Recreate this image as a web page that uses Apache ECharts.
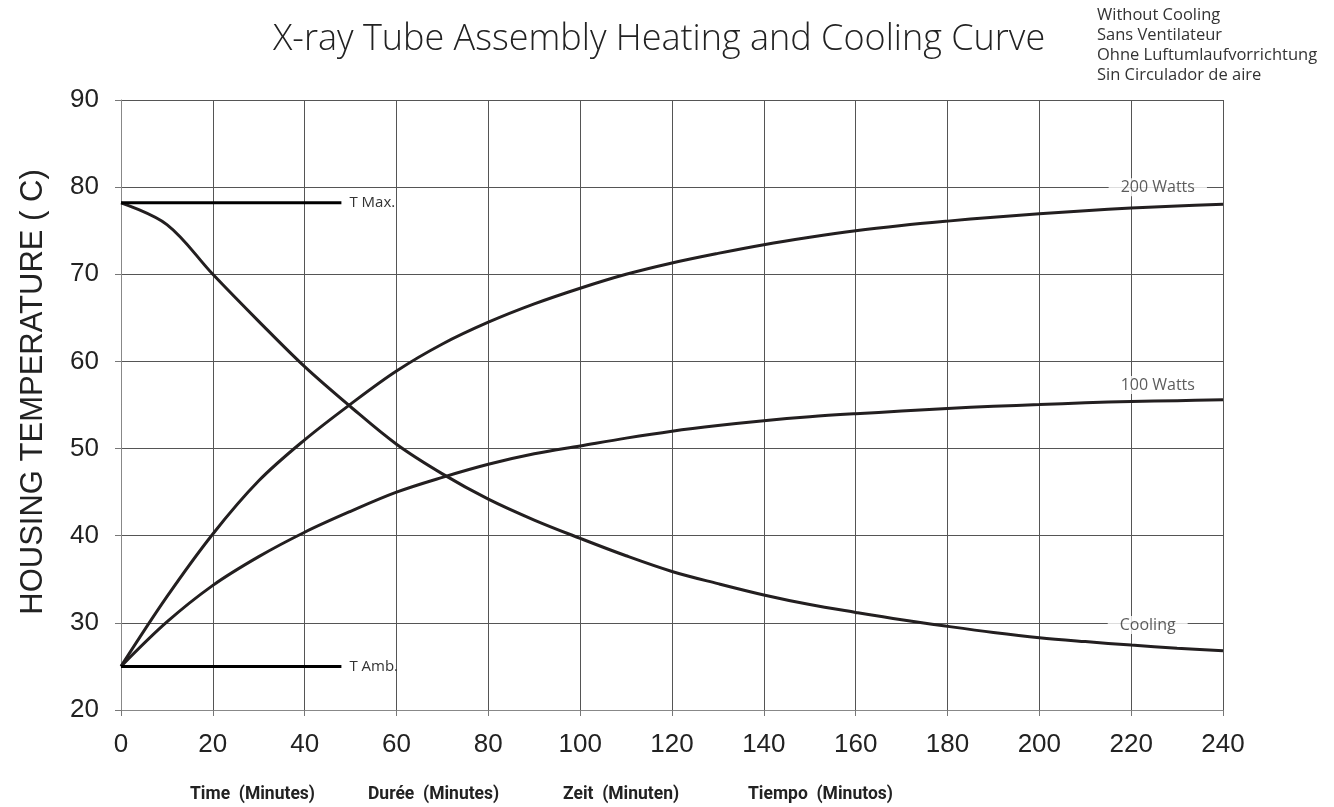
<!DOCTYPE html>
<html>
<head>
<meta charset="utf-8">
<script src="https://cdn.jsdelivr.net/npm/echarts@6/dist/echarts.min.js"></script>
<style>
html, body { margin: 0; background: #fff; }
#chart { width: 1334px; height: 807px; }
</style>
</head>
<body>
<div id="chart"></div>
<script>
// time in minutes, temperature in C
const minutes = [0, 10, 20, 30, 40, 50, 60, 70, 80, 90, 100, 110, 120, 130, 140, 150, 160, 170, 180, 190, 200, 210, 220, 230, 240];
const watts200 = [25, 33, 40.2, 46.3, 51, 55.1, 58.9, 62, 64.5, 66.6, 68.4, 70, 71.3, 72.4, 73.4, 74.25, 75, 75.6, 76.1, 76.55, 76.95, 77.3, 77.6, 77.85, 78.05];
const watts100 = [25, 30.1, 34.3, 37.6, 40.4, 42.8, 45, 46.7, 48.2, 49.4, 50.3, 51.2, 52, 52.65, 53.2, 53.65, 54, 54.3, 54.6, 54.85, 55.05, 55.25, 55.4, 55.5, 55.6];
const cooling = [78.2, 75.7, 70, 64.6, 59.4, 54.8, 50.5, 47.1, 44.2, 41.8, 39.7, 37.7, 35.9, 34.5, 33.2, 32.1, 31.2, 30.35, 29.6, 28.9, 28.3, 27.85, 27.45, 27.1, 26.8];

const tMax = 78.2;
const tAmb = 25;
const refEnd = 48;

const curveLabels = ['200 Watts', '100 Watts', 'Cooling'];
const curveLabelX = [225.8, 225.8, 223.6];
const curveLabelY = [80, 57.3, 29.75];

const notes = ['Without Cooling', 'Sans Ventilateur', 'Ohne Luftumlaufvorrichtung', 'Sin Circulador de aire'];
const xTitles = ['Time  (Minutes)', 'Durée  (Minutes)', 'Zeit  (Minuten)', 'Tiempo  (Minutos)'];
const xTitlePos = [190, 368, 563, 748];

const pair = (xs, ys) => xs.map((x, i) => [x, ys[i]]);

const curveStyle = { color: '#231f20', width: 3 };
function curve(name, values) {
  return {
    name: name,
    type: 'line',
    data: pair(minutes, values),
    smooth: 0.35,
    symbol: 'none',
    lineStyle: curveStyle,
    z: 3
  };
}
function refLine(name, y) {
  return {
    name: name,
    type: 'line',
    data: [[0, y], [refEnd, y]],
    symbol: 'none',
    lineStyle: { color: '#000', width: 3 },
    endLabel: {
      show: true,
      formatter: name,
      color: '#333',
      fontSize: 15,
      fontFamily: 'Open Sans',
      distance: 8
    },
    z: 3
  };
}

const chart = echarts.init(document.getElementById('chart'));
chart.setOption({
  animation: false,
  backgroundColor: '#fff',
  textStyle: { fontFamily: 'Liberation Sans' },
  title: {
    text: 'X-ray Tube Assembly Heating and Cooling Curve',
    left: 268,
    top: 17,
    textStyle: { fontFamily: 'Open Sans', fontWeight: 300, fontSize: 36, color: '#222' }
  },
  grid: { left: 121, right: 111, top: 100, bottom: 97 },
  xAxis: {
    type: 'value',
    min: 0,
    max: 240,
    interval: 20,
    axisLine: { show: true, lineStyle: { color: '#888', width: 1 } },
    axisTick: { show: true, length: 6, lineStyle: { color: '#777' } },
    axisLabel: { fontSize: 26, color: '#222', margin: 22 },
    splitLine: { show: true, lineStyle: { color: '#555', width: 1 } }
  },
  yAxis: {
    type: 'value',
    min: 20,
    max: 90,
    interval: 10,
    axisLine: { show: true, lineStyle: { color: '#888', width: 1 } },
    axisTick: { show: true, length: 6, lineStyle: { color: '#777' } },
    axisLabel: { fontSize: 26, color: '#222', margin: 22 },
    splitLine: { show: true, lineStyle: { color: '#555', width: 1 } }
  },
  series: [
    curve('200 Watts', watts200),
    curve('100 Watts', watts100),
    curve('Cooling', cooling),
    refLine('T Max.', tMax),
    refLine('T Amb.', tAmb),
    {
      name: 'labels',
      type: 'scatter',
      symbolSize: 0,
      data: curveLabels.map((t, i) => [curveLabelX[i], curveLabelY[i], t]),
      label: {
        show: true,
        position: 'inside',
        formatter: p => p.data[2],
        color: '#333',
        fontSize: 16,
        fontFamily: 'Open Sans',
        backgroundColor: '#fff',
        padding: [1, 12]
      },
      z: 2
    }
  ],
  graphic: [
    {
      // y axis title, placed by hand to sit a little above the plot centre
      type: 'text',
      x: 33,
      y: 392,
      rotation: Math.PI / 2,
      style: {
        text: 'HOUSING TEMPERATURE ( C)',
        fontFamily: 'Liberation Sans',
        fontSize: 31,
        fill: '#222',
        align: 'center',
        verticalAlign: 'middle'
      }
    },
    {
      type: 'text',
      left: 1097,
      top: 5,
      style: {
        text: notes.join('\n'),
        fontFamily: 'Open Sans',
        fontSize: 16.5,
        lineHeight: 20,
        fill: '#333'
      }
    }
  ].concat(xTitles.map((t, i) => ({
    type: 'text',
    left: xTitlePos[i],
    top: 786,
    style: {
      text: t,
      fontFamily: 'Roboto',
      fontWeight: 'bold',
      fontSize: 17.5,
      fill: '#222'
    }
  })))
});
</script>
</body>
</html>
